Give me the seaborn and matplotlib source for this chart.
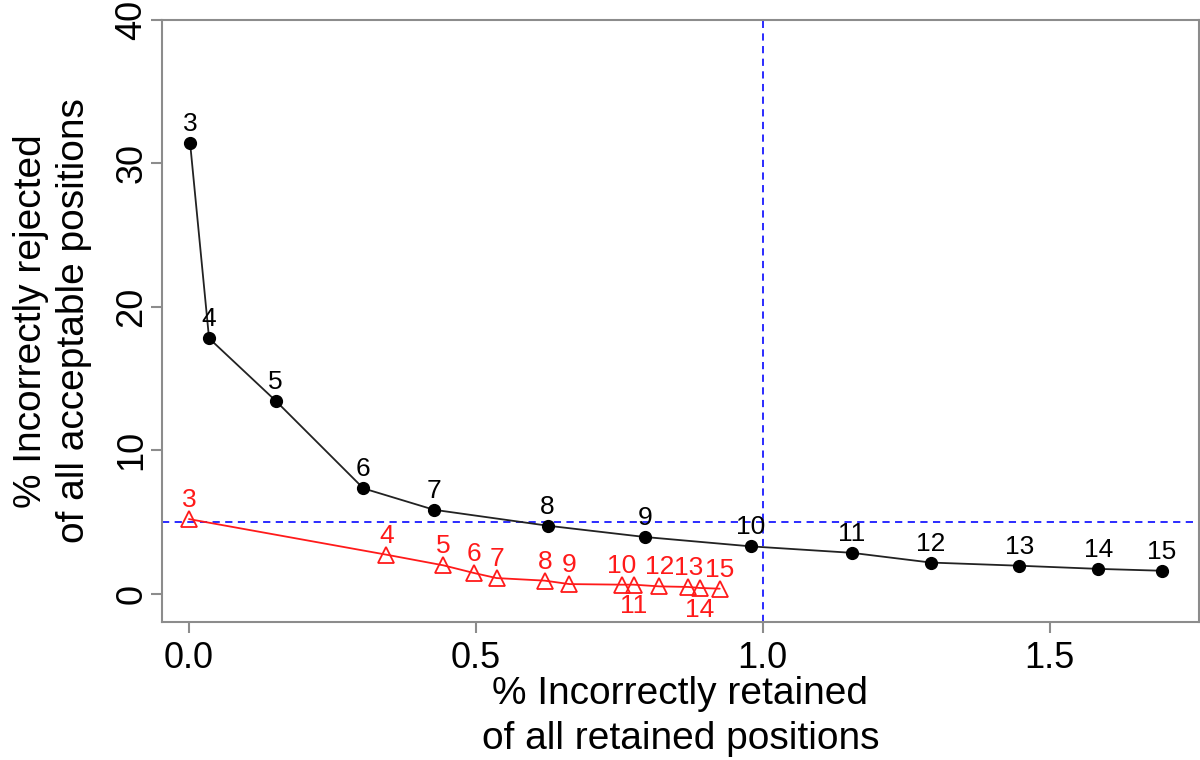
import matplotlib
matplotlib.use("Agg")
import matplotlib.pyplot as plt
import seaborn as sns
import pandas as pd

# thresholds used as point labels
black_labels = [3, 4, 5, 6, 7, 8, 9, 10, 11, 12, 13, 14, 15]
black_x = [0.002, 0.035, 0.151, 0.304, 0.427, 0.625, 0.795, 0.979, 1.155, 1.293, 1.447, 1.585, 1.695]
black_y = [31.4, 17.8, 13.45, 7.34, 5.85, 4.74, 3.95, 3.3, 2.85, 2.17, 1.95, 1.73, 1.6]

red_labels = [3, 4, 5, 6, 7, 8, 9, 10, 11, 12, 13, 14, 15]
red_x = [0.0, 0.344, 0.443, 0.497, 0.536, 0.62, 0.663, 0.754, 0.775, 0.82, 0.87, 0.89, 0.925]
red_y = [5.2, 2.72, 1.98, 1.44, 1.09, 0.91, 0.67, 0.63, 0.63, 0.51, 0.47, 0.40, 0.35]
red_below = [11, 14]  # labels drawn under the point

ref_x = 1.0
ref_y = 5.0

df_black = pd.DataFrame({"x": black_x, "y": black_y, "lab": black_labels})
df_red = pd.DataFrame({"x": red_x, "y": red_y, "lab": red_labels})

sns.set_style("ticks")
plt.rcParams["font.family"] = ["Liberation Sans", "DejaVu Sans"]
plt.rcParams["text.color"] = "black"
plt.rcParams["axes.labelcolor"] = "black"

fig = plt.figure(figsize=(12, 7.6), dpi=100)
ax = fig.add_axes([0.135, 0.182, 0.864, 0.792])

# reference lines
ax.axhline(ref_y, color="#1a1aff", ls=(0, (4, 3)), lw=1.3, zorder=1)
ax.axvline(ref_x, color="#1a1aff", ls=(0, (4, 3)), lw=1.3, zorder=1)

sns.lineplot(data=df_black, x="x", y="y", ax=ax, sort=False, estimator=None,
             color="#222222", lw=1.3, marker="o", ms=8.5, mfc="black", mec="black", mew=1)
sns.lineplot(data=df_red, x="x", y="y", ax=ax, sort=False, estimator=None,
             color="#ff1a1a", lw=1.3, marker="^", ms=11, mfc="none", mec="#ff1a1a", mew=1.3)

for lab, x, y in zip(black_labels, black_x, black_y):
    ax.annotate(str(lab), (x, y), xytext=(0, 5), textcoords="offset points",
                ha="center", va="bottom", fontsize=19, color="black")

for lab, x, y in zip(red_labels, red_x, red_y):
    if lab in red_below:
        ax.annotate(str(lab), (x, y), xytext=(0, -7), textcoords="offset points",
                    ha="center", va="top", fontsize=19, color="#ff1a1a")
    else:
        ax.annotate(str(lab), (x, y), xytext=(0, 5), textcoords="offset points",
                    ha="center", va="bottom", fontsize=19, color="#ff1a1a")

ax.set_xlim(-0.047, 1.76)
ax.set_ylim(-1.95, 40)
ax.set_xticks([0.0, 0.5, 1.0, 1.5])
ax.set_xticklabels(["0.0", "0.5", "1.0", "1.5"])
ax.set_yticks([0, 10, 20, 30, 40])
ax.set_yticklabels(["0", "10", "20", "30", "40"], rotation=90, va="center")

for s in ax.spines.values():
    s.set_visible(True)
    s.set_color("#8c8c8c")
    s.set_linewidth(1.5)
ax.tick_params(axis="both", direction="out", length=8, width=1.5, color="#8c8c8c",
               labelsize=26, labelcolor="black")
ax.tick_params(axis="x", pad=6)
ax.tick_params(axis="y", pad=1)

ax.set_xlabel("% Incorrectly retained\nof all retained positions", fontsize=28, linespacing=1.3, labelpad=0)
ax.set_ylabel("% Incorrectly rejected\nof all acceptable positions", fontsize=28, linespacing=1.25, labelpad=16)

fig.savefig("out.png", dpi=100)
